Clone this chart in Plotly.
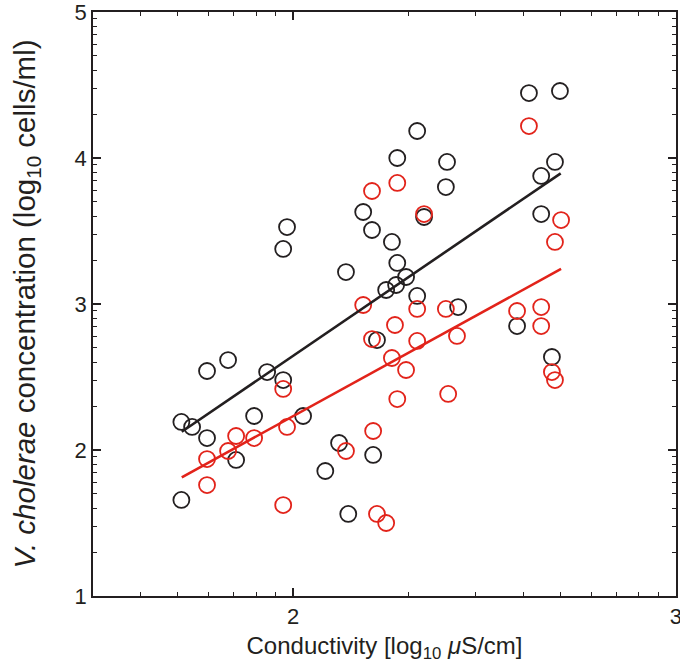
import plotly.graph_objects as go

# log10 conductivity (x) and log10 V. cholerae concentration (y)
black_x = [1.708, 1.736, 1.708, 1.775, 1.775, 1.830, 1.851, 1.898, 1.932, 1.974,
           1.984, 1.974, 2.026, 2.084, 2.120, 2.144, 2.138, 2.183, 2.206, 2.258,
           2.272, 2.324, 2.402, 2.399, 2.342, 2.272, 2.295, 2.269, 2.243, 2.324,
           2.431, 2.219, 2.209, 2.616, 2.697, 2.684, 2.648, 2.648, 2.585, 2.676]
black_y = [2.192, 2.158, 1.658, 2.082, 2.541, 2.616, 1.932, 2.233, 2.534, 2.479,
           3.527, 3.377, 2.233, 1.856, 2.048, 1.562, 3.219, 3.630, 3.507, 3.425,
           4.000, 4.185, 3.973, 3.801, 3.596, 3.281, 3.185, 3.130, 3.096, 3.055,
           2.979, 2.753, 1.966, 4.445, 4.459, 3.973, 3.877, 3.616, 2.849, 2.637]

red_x = [1.974, 1.851, 1.898, 1.984, 1.830, 1.775, 1.775, 1.974, 2.206, 2.272,
         2.342, 2.183, 2.324, 2.399, 2.266, 2.206, 2.324, 2.428, 2.258, 2.295,
         2.272, 2.405, 2.209, 2.138, 2.219, 2.243, 2.616, 2.700, 2.684, 2.585,
         2.648, 2.648, 2.676, 2.684]
red_y = [2.418, 2.096, 2.082, 2.158, 1.993, 1.938, 1.760, 1.623, 3.774, 3.829,
         3.616, 2.993, 2.966, 2.966, 2.856, 2.760, 2.747, 2.781, 2.630, 2.548,
         2.349, 2.384, 2.130, 1.993, 1.562, 1.500, 4.219, 3.575, 3.425, 2.952,
         2.979, 2.849, 2.534, 2.479]

# regression line end points (log10 values)
black_fit_x = [1.709, 2.699]
black_fit_y = [2.125, 3.895]
red_fit_x = [1.709, 2.700]
red_fit_y = [1.813, 3.240]

x_tick_vals = [2, 3]
y_tick_vals = [1, 2, 3, 4, 5]

BLACK = "#231f20"
RED = "#e2231a"
FONT = "Liberation Sans, Arial, sans-serif"

def p10(v):
    return [10 ** a for a in v]

fig = go.Figure()
fig.add_trace(go.Scatter(x=p10(black_x), y=p10(black_y), mode="markers",
                         marker=dict(symbol="circle-open", size=16, color=BLACK,
                                     line=dict(width=1.8, color=BLACK)),
                         showlegend=False))
fig.add_trace(go.Scatter(x=p10(red_x), y=p10(red_y), mode="markers",
                         marker=dict(symbol="circle-open", size=16, color=RED,
                                     line=dict(width=1.8, color=RED)),
                         showlegend=False))
fig.add_trace(go.Scatter(x=p10(black_fit_x), y=p10(black_fit_y), mode="lines",
                         line=dict(color=BLACK, width=2.6), showlegend=False))
fig.add_trace(go.Scatter(x=p10(red_fit_x), y=p10(red_fit_y), mode="lines",
                         line=dict(color=RED, width=2.6), showlegend=False))

x_minor = [m * 10 ** d for d in (1, 2) for m in range(2, 10) if 30 <= m * 10 ** d <= 1000]
y_minor = [m * 10 ** d for d in (1, 2, 3, 4) for m in range(2, 10)]

axis_font = dict(family=FONT, size=22, color=BLACK)

fig.update_xaxes(type="log", range=[1.4771, 3.0002],
                 tickmode="array", tickvals=[10 ** v for v in x_tick_vals],
                 ticktext=[str(v) for v in x_tick_vals], ticklabeloverflow="allow",
                 ticks="inside", ticklen=8, tickwidth=1.5, tickcolor=BLACK,
                 minor=dict(tickmode="array", tickvals=x_minor, ticks="inside",
                            ticklen=4, tickwidth=1.2, tickcolor=BLACK, showgrid=False),
                 showline=True, linecolor=BLACK, linewidth=1.5, mirror="ticks",
                 showgrid=False, zeroline=False, tickfont=axis_font,
                 title=dict(text="Conductivity [log<sub>10</sub> <i>μ</i>S/cm]",
                            font=dict(family=FONT, size=24, color=BLACK),
                            standoff=9))
fig.update_yaxes(type="log", range=[1.0, 5.0],
                 tickmode="array", tickvals=[10 ** v for v in y_tick_vals],
                 ticktext=[str(v) for v in y_tick_vals], ticklabeloverflow="allow",
                 ticks="inside", ticklen=8, tickwidth=1.5, tickcolor=BLACK,
                 minor=dict(tickmode="array", tickvals=y_minor, ticks="inside",
                            ticklen=4, tickwidth=1.2, tickcolor=BLACK, showgrid=False),
                 showline=True, linecolor=BLACK, linewidth=1.5, mirror="ticks",
                 showgrid=False, zeroline=False, tickfont=axis_font,
                 title=dict(text="<i>V. cholerae</i> concentration (log<sub>10</sub> cells/ml)",
                            font=dict(family=FONT, size=29.5, color=BLACK),
                            standoff=30))

fig.update_layout(width=680, height=670, plot_bgcolor="white", paper_bgcolor="white",
                  margin=dict(l=93, r=4, t=12, b=74, autoexpand=False))

fig.write_html("out.html", config={"displayModeBar": False},
               post_script="document.body.style.margin='0';")
